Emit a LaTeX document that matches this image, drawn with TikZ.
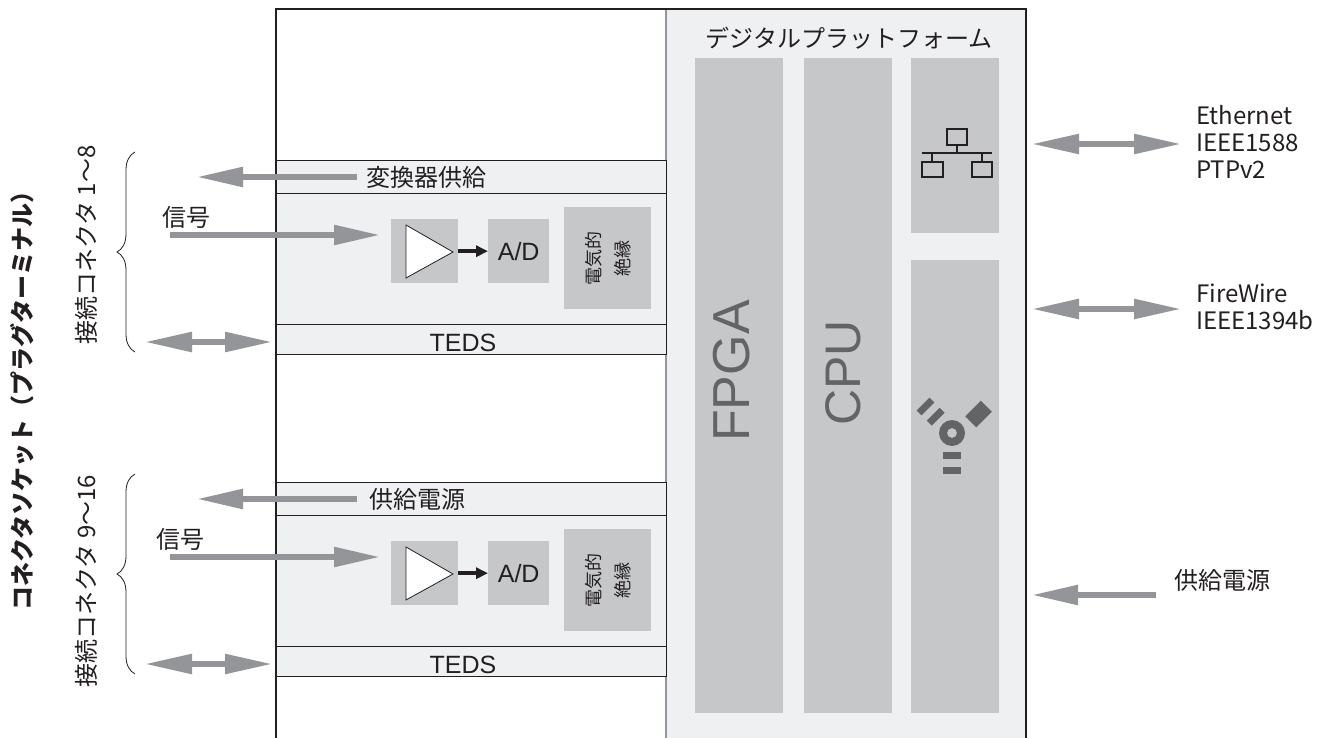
\documentclass[tikz,border=0pt]{standalone}
\usepackage{fontspec}
\setmainfont{Liberation Sans}
\newfontfamily\jpfont{Noto Sans CJK JP}
\usetikzlibrary{arrows.meta,decorations.pathreplacing}
\definecolor{bgl}{HTML}{EFF0F2}
\definecolor{boxg}{HTML}{C6C7C9}
\definecolor{arrg}{HTML}{939598}
\definecolor{icong}{HTML}{636466}
\definecolor{ink}{HTML}{231F20}
\tikzset{
  band/.style={draw=ink, fill=bgl, line width=0.8pt, anchor=north west, inner sep=0pt, minimum width=390pt},
  gbox/.style={fill=boxg, anchor=north west, inner sep=0pt},
  garrow/.style={draw=arrg, line width=5.5pt, -{Triangle[length=46pt,width=19pt]}},
  gdarrow/.style={draw=arrg, line width=5.5pt, {Triangle[length=47pt,width=19pt]}-{Triangle[length=47pt,width=19pt]}},
  blkarrow/.style={draw=ink, line width=3.5pt, -{Triangle[length=12pt,width=11pt]}},
  jp/.style={font=\jpfont\fontsize{24}{27}\selectfont, text=ink, inner sep=0pt},
  jpsmall/.style={font=\jpfont\fontsize{18}{29}\selectfont, text=ink, inner sep=0pt},
  lat/.style={font=\fontsize{25}{30}\selectfont, text=ink, inner sep=0pt},
  chip/.style={text=icong, inner sep=0pt, rotate=90, anchor=base},
  cbrace/.style={decorate, decoration={brace, amplitude=18pt}, draw=ink, line width=0.8pt},
  mainline/.style={draw=ink, line width=2pt},
  sidelab/.style={font=\jpfont\fontsize{24}{27}\selectfont, text=ink, inner sep=0pt, rotate=90},
}
\begin{document}
\begin{tikzpicture}[x=1pt,y=-1pt]
\useasboundingbox (0,0) rectangle (1320,738);
\fill[white] (0,0) rectangle (1320,738);

% digital platform
\node[fill=bgl, anchor=north west, inner sep=0pt, minimum width=360pt, minimum height=729pt] (dp) at (666,9) {};
\draw[arrg, line width=1.5pt] (dp.north west) -- (dp.south west);
\node[jp] (dptitle) at (849,38) {デジタルプラットフォーム};
\node[gbox, minimum width=88pt, minimum height=655pt] (fpga) at (695,58) {};
\node[gbox, minimum width=88pt, minimum height=655pt] (cpu) at (804,58) {};
\node[gbox, minimum width=88pt, minimum height=175pt] (eth) at (911,58) {};
\node[gbox, minimum width=88pt, minimum height=453pt] (fw) at (911,260) {};
\node[chip, font=\fontsize{52}{60}\selectfont] (fpgat) at (749,371) {FPGA};
\node[chip, font=\fontsize{50}{60}\selectfont] (cput) at (860,373) {CPU};

% ethernet icon
\begin{scope}[draw=ink, line width=1.8pt]
\draw (947,129) rectangle (967,145);
\draw (957,145) -- (957,153);
\draw (922,153) -- (992,153);
\draw (932,153) -- (932,162);
\draw (982,153) -- (982,162);
\draw (922,162) rectangle (943,177);
\draw (972,162) rectangle (992,177);
\end{scope}

% firewire icon
\fill[icong, even odd rule] (952,433) circle[radius=13pt] (952,433) circle[radius=5pt];
\draw[icong, line width=7pt] (943,455.5) -- (961,455.5);
\draw[icong, line width=7pt] (943,470.5) -- (961,470.5);
\draw[icong, line width=7pt] (929.3,423.1) -- (942.1,410.3);
\draw[icong, line width=7pt] (919.1,412.9) -- (931.9,400.1);
\fill[icong] (976.2,427.3) -- (965.2,416.3) -- (980.8,400.7) -- (991.8,411.7) -- cycle;

% modules
\foreach \o/\lab/\m/\sx in {0/変換器供給/1/366, 322/供給電源/2/369} {
  \node[band, minimum height=33pt] (sup\m) at (276,{160+\o}) {};
  \node[band, minimum height=131pt] (sig\m) at (276,{193+\o}) {};
  \node[band, minimum height=30pt] (teds\m) at (276,{324+\o}) {};
  \node[jp, anchor=west] (suplab\m) at (\sx,{177+\o}) {\lab};
  \node[lat, anchor=base] (tedslab\m) at (463,{351+\o}) {TEDS};
  \node[gbox, minimum width=67pt, minimum height=64pt] (amp\m) at (391,{219+\o}) {};
  \draw[ink, fill=white, line width=0.8pt] (406,{225+\o}) -- (453,{252+\o}) -- (406,{278+\o}) -- cycle;
  \node[gbox, minimum width=61pt, minimum height=64pt] (ad\m) at (488,{219+\o}) {};
  \node[lat] (adlab\m) at (ad\m.center) {A/D};
  \node[gbox, minimum width=87pt, minimum height=102pt] (iso\m) at (564,{207+\o}) {};
  \node[jpsmall, rotate=90, align=center] (isolab\m) at (iso\m.center) {電気的\\絶縁};
  \draw[blkarrow] (amp\m) -- (ad\m);
}

% main frame
\draw[mainline] (276,738) -- (276,9) -- (1026,9) -- (1026,738);

% left arrows and braces
\foreach \o/\m/\sgx in {0/1/186, 322/2/180} {
  \coordinate (supS\m) at (357,{177+\o});
  \coordinate (supE\m) at (197,{177+\o});
  \draw[garrow] (supS\m) -- (supE\m);
  \coordinate (sigS\m) at (170,{235+\o});
  \coordinate (sigE\m) at (380,{235+\o});
  \draw[garrow] (sigS\m) -- (sigE\m);
  \node[jp] (siglab\m) at (\sgx,{217+\o}) {信号};
  \coordinate (tedsL\m) at (145,{342+\o});
  \coordinate (tedsR\m) at (272,{342+\o});
  \draw[gdarrow] (tedsL\m) -- (tedsR\m);
  \coordinate (brB\m) at (135,{352+\o});
  \coordinate (brT\m) at (135,{152+\o});
  \draw[cbrace] (brB\m) -- (brT\m);
}
\node[sidelab] (con1) at (86,245) {接続コネクタ 1〜8};
\node[sidelab] (con2) at (86,581) {接続コネクタ 9〜16};
\node[sidelab, font=\jpfont\bfseries\fontsize{24}{27}\selectfont] (sock) at (22,395) {コネクタソケット（プラグターミナル）};

% right side
\coordinate (ethL) at (1032,144);
\coordinate (ethR) at (1181,144);
\draw[gdarrow] (ethL) -- (ethR);
\node[jp, anchor=west, align=left] (ethlab) at (1196,142) {Ethernet\\IEEE1588\\PTPv2};
\coordinate (fwL) at (1032,309);
\coordinate (fwR) at (1181,309);
\draw[gdarrow] (fwL) -- (fwR);
\node[jp, anchor=west, align=left] (fwlab) at (1196,307) {FireWire\\IEEE1394b};
\coordinate (pwS) at (1156,595);
\coordinate (pwE) at (1032,595);
\draw[garrow] (pwS) -- (pwE);
\node[jp, anchor=west] (pwlab) at (1174,580) {供給電源};
\end{tikzpicture}
\end{document}
